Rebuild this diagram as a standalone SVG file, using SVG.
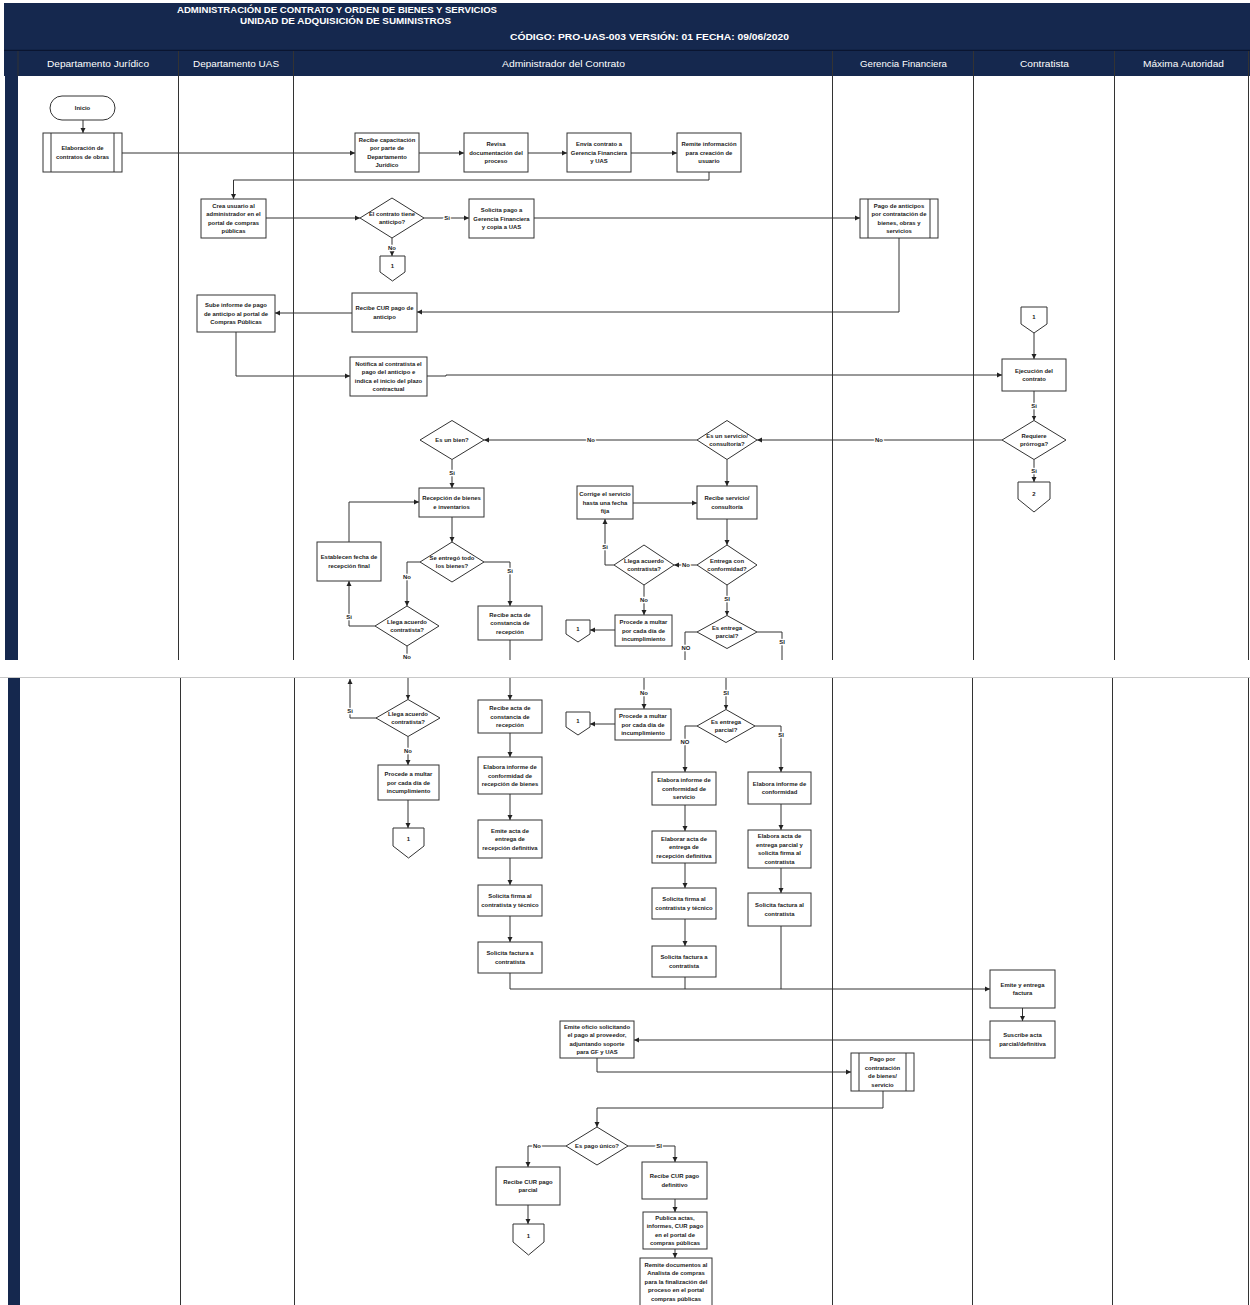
<svg xmlns="http://www.w3.org/2000/svg" width="1250" height="1305" viewBox="0 0 1250 1305">
<style>
.bg{fill:#fff}
.navy{fill:#15284e}
.lane{stroke:#333;stroke-width:1;fill:none}
.box{fill:#fff;stroke:#333;stroke-width:1}
.t{font-family:"Liberation Sans",Arial,sans-serif;font-size:5.9px;font-weight:bold;fill:#1a1a1a;text-anchor:middle}
.l{font-family:"Liberation Sans",Arial,sans-serif;font-size:5.9px;font-weight:bold;fill:#1a1a1a;text-anchor:middle;stroke:#fff;stroke-width:2.5px;paint-order:stroke}
.h{font-family:"Liberation Sans",Arial,sans-serif;font-weight:bold;fill:#fff;text-anchor:middle}
.lh{font-family:"Liberation Sans",Arial,sans-serif;font-size:9.5px;fill:#fff;text-anchor:middle}
.c{fill:none;stroke:#333;stroke-width:1}
.a{fill:none;stroke:#333;stroke-width:1;marker-end:url(#arr)}
</style>
<defs>
<marker id="arr" markerUnits="userSpaceOnUse" markerWidth="5" markerHeight="6" refX="5" refY="3" orient="auto">
<path d="M0,0.5 L5,3 L0,5.5 Z" fill="#222"/>
</marker>
</defs>
<rect class="bg" x="0" y="0" width="1250" height="1305"/>

<!-- Header -->
<g id="header">
<rect class="navy" x="4" y="3" width="1246" height="47"/>
<line x1="4" y1="50.5" x2="1250" y2="50.5" stroke="#0a1530" stroke-width="1.5"/>
<rect class="navy" x="4" y="51" width="1246" height="25"/>
<text class="h" x="337" y="13" font-size="9" textLength="320" lengthAdjust="spacingAndGlyphs">ADMINISTRACIÓN DE CONTRATO Y ORDEN DE BIENES Y SERVICIOS</text>
<text class="h" x="345.5" y="24" font-size="9" textLength="211" lengthAdjust="spacingAndGlyphs">UNIDAD DE ADQUISICIÓN DE SUMINISTROS</text>
<text class="h" x="649.5" y="40" font-size="9" textLength="279" lengthAdjust="spacingAndGlyphs">CÓDIGO:  PRO-UAS-003 VERSIÓN: 01   FECHA: 09/06/2020</text>
<text class="lh" x="98" y="67" textLength="102" lengthAdjust="spacingAndGlyphs">Departamento Jurídico</text>
<text class="lh" x="236" y="67" textLength="86" lengthAdjust="spacingAndGlyphs">Departamento UAS</text>
<text class="lh" x="563.5" y="67" textLength="123" lengthAdjust="spacingAndGlyphs">Administrador del Contrato</text>
<text class="lh" x="903.5" y="67" textLength="87" lengthAdjust="spacingAndGlyphs">Gerencia Financiera</text>
<text class="lh" x="1044.5" y="67" textLength="49" lengthAdjust="spacingAndGlyphs">Contratista</text>
<text class="lh" x="1183.5" y="67" textLength="81" lengthAdjust="spacingAndGlyphs">Máxima Autoridad</text>
</g>

<!-- Lanes -->
<g id="lanes">
<rect class="navy" x="5" y="76" width="13" height="584"/>
<line class="lane" x1="18" y1="51" x2="18" y2="76" stroke="#0a1530"/>
<path class="lane" d="M178.5,51 V660 M293.5,51 V660 M832.5,51 V660 M973.5,51 V660 M1114.5,51 V660 M1248.5,51 V660"/>
<line x1="0" y1="677.5" x2="1250" y2="677.5" stroke="#c8c8c8" stroke-width="1"/>
<rect class="navy" x="8" y="678" width="12" height="627"/>
<path class="lane" d="M180.5,678 V1305 M294.5,678 V1305 M832.5,678 V1305 M972.5,678 V1305 M1112.5,678 V1305 M1248.5,678 V1305"/>
</g>

<!-- Connectors -->
<g id="connectors">
<path class="a" d="M83,120 V133"/>
<path class="a" d="M122,153 H355"/>
<path class="a" d="M419,153 H464"/>
<path class="a" d="M528,153 H567"/>
<path class="a" d="M631,153 H677"/>
<path class="a" d="M709,172 V180 H233.5 V199"/>
<path class="a" d="M266,218 H360"/>
<path class="a" d="M424,218 H469"/>
<text class="l" x="447" y="220">Si</text>
<path class="a" d="M534,218 H860"/>
<path class="a" d="M392,238 V256"/>
<text class="l" x="392" y="250">No</text>
<path class="a" d="M899,238 V312 H417"/>
<path class="a" d="M352,313 H275"/>
<path class="a" d="M236,332 V376 H350"/>
<path class="a" d="M427,376 H446 V375 H1002"/>
<path class="a" d="M1034,333 V359"/>
<path class="a" d="M1034,391 V420.5"/>
<text class="l" x="1034" y="408">Si</text>
<path class="a" d="M1002,440 H757"/>
<text class="l" x="879" y="442">No</text>
<path class="a" d="M1034,459.5 V482"/>
<text class="l" x="1034" y="473">Si</text>
<path class="a" d="M697,440 H484"/>
<text class="l" x="591" y="442">No</text>
<path class="a" d="M727,459.5 V486"/>
<path class="a" d="M452,459.5 V488"/>
<text class="l" x="452" y="475">Si</text>
<path class="a" d="M452,517 V542"/>
<path class="a" d="M420,562 H407 V606"/>
<text class="l" x="407" y="579">No</text>
<path class="a" d="M484,562 H510 V606"/>
<text class="l" x="510" y="573">Si</text>
<path class="a" d="M349,542 V502 H419"/>
<path class="a" d="M375,626 H349 V581"/>
<text class="l" x="349" y="619">Si</text>
<path class="c" d="M407,646 V660"/>
<text class="l" x="407" y="659">No</text>
<path class="c" d="M510,640 V660"/>
<path class="a" d="M633,503 H697"/>
<path class="a" d="M727,519 V545"/>
<path class="a" d="M697,565 H674"/>
<text class="l" x="686" y="567">No</text>
<path class="a" d="M614,565 H605 V519"/>
<text class="l" x="605" y="549">Si</text>
<path class="a" d="M644,585 V615"/>
<text class="l" x="644" y="602">No</text>
<path class="a" d="M615,630 H590"/>
<path class="a" d="M727,585 V615.5"/>
<text class="l" x="727" y="601">SI</text>
<path class="c" d="M697,632 H685 V660"/>
<text class="l" x="686" y="650">NO</text>
<path class="c" d="M757,632 H782 V660"/>
<text class="l" x="782" y="644">SI</text>

<path class="a" d="M377,718 H350 V679"/>
<text class="l" x="350" y="713">Si</text>
<path class="a" d="M408,678 V699.5"/>
<path class="a" d="M408,736.5 V765"/>
<text class="l" x="408" y="753">No</text>
<path class="a" d="M408,800 V828"/>
<path class="a" d="M510,678 V700"/>
<path class="a" d="M510,733 V757"/>
<path class="a" d="M510,794 V820"/>
<path class="a" d="M510,858 V885"/>
<path class="a" d="M510,916 V942"/>
<path class="a" d="M510,973 V989 H990"/>
<path class="a" d="M644,678 V709"/>
<text class="l" x="644" y="695">No</text>
<path class="a" d="M615,724 H590"/>
<path class="a" d="M726,678 V709.5"/>
<text class="l" x="726" y="695">SI</text>
<path class="a" d="M697,726 H685 V772"/>
<text class="l" x="685" y="744">NO</text>
<path class="a" d="M755,726 H781 V772"/>
<text class="l" x="781" y="737">SI</text>
<path class="a" d="M685,805 V831"/>
<path class="a" d="M685,863 V888"/>
<path class="a" d="M685,919 V946"/>
<path class="c" d="M685,977 V989"/>
<path class="a" d="M781,804 V830"/>
<path class="a" d="M781,868 V893"/>
<path class="c" d="M781,926 V989"/>
<path class="a" d="M1022.5,1008 V1021"/>
<path class="a" d="M990,1040 H634"/>
<path class="a" d="M597,1058 V1072 H851"/>
<path class="a" d="M883,1091 V1108 H597 V1127"/>
<path class="a" d="M566,1146 H528 V1167"/>
<text class="l" x="537" y="1148">No</text>
<path class="a" d="M628,1146 H675 V1162"/>
<text class="l" x="659" y="1148">SI</text>
<path class="a" d="M528,1205 V1224"/>
<path class="a" d="M675,1199 V1212"/>
<path class="a" d="M675,1249 V1258"/>
</g>

<!-- Nodes top part -->
<g id="n-inicio"><rect class="box" x="50" y="96" width="65" height="24" rx="12"/><text class="t" x="82.5" y="110">Inicio</text></g>
<g id="n-elaboracion"><rect class="box" x="43" y="133" width="79" height="39"/><path class="c" d="M51,133 V172 M114,133 V172"/><text class="t"><tspan x="82.5" y="150.25">Elaboración de</tspan><tspan x="82.5" y="158.75">contratos de obras</tspan></text></g>
<g id="n-recibe-capacitacion"><rect class="box" x="355" y="133" width="64" height="39"/><text class="t"><tspan x="387" y="141.75">Recibe capacitación</tspan><tspan x="387" y="150.25">por parte de</tspan><tspan x="387" y="158.75">Departamento</tspan><tspan x="387" y="167.25">Jurídico</tspan></text></g>
<g id="n-revisa"><rect class="box" x="464" y="133" width="64" height="39"/><text class="t"><tspan x="496" y="146">Revisa</tspan><tspan x="496" y="154.5">documentación del</tspan><tspan x="496" y="163">proceso</tspan></text></g>
<g id="n-envia"><rect class="box" x="567" y="133" width="64" height="39"/><text class="t"><tspan x="599" y="146">Envía contrato a</tspan><tspan x="599" y="154.5">Gerencia Financiera</tspan><tspan x="599" y="163">y UAS</tspan></text></g>
<g id="n-remite-info"><rect class="box" x="677" y="133" width="64" height="39"/><text class="t"><tspan x="709" y="146">Remite información</tspan><tspan x="709" y="154.5">para creación de</tspan><tspan x="709" y="163">usuario</tspan></text></g>
<g id="n-crea-usuario"><rect class="box" x="201" y="199" width="65" height="39"/><text class="t"><tspan x="233.5" y="207.75">Crea usuario al</tspan><tspan x="233.5" y="216.25">administrador en el</tspan><tspan x="233.5" y="224.75">portal de compras</tspan><tspan x="233.5" y="233.25">públicas</tspan></text></g>
<g id="d-anticipo"><path class="box" d="M392,198 L424,218 L392,238 L360,218 Z"/><text class="t"><tspan x="392" y="215.75">El contrato tiene</tspan><tspan x="392" y="224.25">anticipo?</tspan></text></g>
<g id="n-solicita-pago"><rect class="box" x="469" y="199" width="65" height="39"/><text class="t"><tspan x="501.5" y="212">Solicita pago a</tspan><tspan x="501.5" y="220.5">Gerencia Financiera</tspan><tspan x="501.5" y="229">y copia a UAS</tspan></text></g>
<g id="n-pago-anticipos"><rect class="box" x="860" y="199" width="78" height="39"/><path class="c" d="M868,199 V238 M930,199 V238"/><text class="t"><tspan x="899" y="207.75">Pago de anticipos</tspan><tspan x="899" y="216.25">por contratación de</tspan><tspan x="899" y="224.75">bienes, obras y</tspan><tspan x="899" y="233.25">servicios</tspan></text></g>
<g id="c-1a"><path class="box" d="M380,256 H405 V272 L392.5,281 L380,272 Z"/><text class="t" x="392.5" y="268">1</text></g>
<g id="n-recibe-cur-anticipo"><rect class="box" x="352" y="293" width="65" height="39"/><text class="t"><tspan x="384.5" y="310.25">Recibe CUR pago de</tspan><tspan x="384.5" y="318.75">anticipo</tspan></text></g>
<g id="n-sube-informe"><rect class="box" x="197" y="295" width="78" height="37"/><text class="t"><tspan x="236" y="307">Sube informe de pago</tspan><tspan x="236" y="315.5">de anticipo al portal de</tspan><tspan x="236" y="324">Compras Públicas</tspan></text></g>
<g id="n-notifica"><rect class="box" x="350" y="357" width="77" height="39"/><text class="t"><tspan x="388.5" y="365.75">Notifica al contratista el</tspan><tspan x="388.5" y="374.25">pago del anticipo e</tspan><tspan x="388.5" y="382.75">indica el inicio del plazo</tspan><tspan x="388.5" y="391.25">contractual</tspan></text></g>
<g id="c-1b"><path class="box" d="M1021,307 H1047 V324 L1034,333 L1021,324 Z"/><text class="t" x="1034" y="319">1</text></g>
<g id="n-ejecucion"><rect class="box" x="1002" y="359" width="64" height="32"/><text class="t"><tspan x="1034" y="372.75">Ejecución del</tspan><tspan x="1034" y="381.25">contrato</tspan></text></g>
<g id="d-prorroga"><path class="box" d="M1034,420.5 L1066,440 L1034,459.5 L1002,440 Z"/><text class="t"><tspan x="1034" y="437.75">Requiere</tspan><tspan x="1034" y="446.25">prórroga?</tspan></text></g>
<g id="c-2"><path class="box" d="M1018,482 H1050 V499 L1034,512 L1018,499 Z"/><text class="t" x="1034" y="496">2</text></g>
<g id="d-servicio"><path class="box" d="M727,420.5 L757,440 L727,459.5 L697,440 Z"/><text class="t"><tspan x="727" y="437.75">Es un servicio/</tspan><tspan x="727" y="446.25">consultoría?</tspan></text></g>
<g id="d-bien"><path class="box" d="M452,420.5 L484,440 L452,459.5 L420,440 Z"/><text class="t" x="452" y="442">Es un bien?</text></g>
<g id="n-recepcion"><rect class="box" x="419" y="488" width="65" height="29"/><text class="t"><tspan x="451.5" y="500.25">Recepción de bienes</tspan><tspan x="451.5" y="508.75">e inventarios</tspan></text></g>
<g id="d-entrego"><path class="box" d="M452,542 L484,562 L452,582 L420,562 Z"/><text class="t"><tspan x="452" y="559.75">Se entregó todo</tspan><tspan x="452" y="568.25">los bienes?</tspan></text></g>
<g id="n-establecen"><rect class="box" x="317" y="542" width="64" height="39"/><text class="t"><tspan x="349" y="559.25">Establecen fecha de</tspan><tspan x="349" y="567.75">recepción final</tspan></text></g>
<g id="d-llega-1"><path class="box" d="M407,606 L439,626 L407,646 L375,626 Z"/><text class="t"><tspan x="407" y="623.75">Llega acuerdo</tspan><tspan x="407" y="632.25">contratista?</tspan></text></g>
<g id="n-recibe-acta-1"><rect class="box" x="478" y="606" width="64" height="34"/><text class="t"><tspan x="510" y="616.5">Recibe acta de</tspan><tspan x="510" y="625">constancia de</tspan><tspan x="510" y="633.5">recepción</tspan></text></g>
<g id="n-corrige"><rect class="box" x="577" y="486" width="56" height="33"/><text class="t"><tspan x="605" y="496">Corrige el servicio</tspan><tspan x="605" y="504.5">hasta una fecha</tspan><tspan x="605" y="513">fija</tspan></text></g>
<g id="n-recibe-servicio"><rect class="box" x="697" y="486" width="60" height="33"/><text class="t"><tspan x="727" y="500.25">Recibe servicio/</tspan><tspan x="727" y="508.75">consultoría</tspan></text></g>
<g id="d-conformidad"><path class="box" d="M727,545 L757,565 L727,585 L697,565 Z"/><text class="t"><tspan x="727" y="562.75">Entrega con</tspan><tspan x="727" y="571.25">conformidad?</tspan></text></g>
<g id="d-llega-2"><path class="box" d="M644,545 L674,565 L644,585 L614,565 Z"/><text class="t"><tspan x="644" y="562.75">Llega acuerdo</tspan><tspan x="644" y="571.25">contratista?</tspan></text></g>
<g id="n-multa-1"><rect class="box" x="615" y="615" width="57" height="31"/><text class="t"><tspan x="643.5" y="624">Procede a multar</tspan><tspan x="643.5" y="632.5">por cada día de</tspan><tspan x="643.5" y="641">incumplimiento</tspan></text></g>
<g id="c-1c"><path class="box" d="M566,620 H590 V634 L578,642 L566,634 Z"/><text class="t" x="578" y="631">1</text></g>
<g id="d-parcial-1"><path class="box" d="M727,615.5 L757,632 L727,648.5 L697,632 Z"/><text class="t"><tspan x="727" y="629.75">Es entrega</tspan><tspan x="727" y="638.25">parcial?</tspan></text></g>

<!-- Nodes bottom part -->
<g id="d-llega-1b"><path class="box" d="M408,699.5 L440,718 L408,736.5 L376,718 Z"/><text class="t"><tspan x="408" y="715.75">Llega acuerdo</tspan><tspan x="408" y="724.25">contratista?</tspan></text></g>
<g id="n-multa-1b"><rect class="box" x="378" y="765" width="61" height="35"/><text class="t"><tspan x="408.5" y="776">Procede a multar</tspan><tspan x="408.5" y="784.5">por cada día de</tspan><tspan x="408.5" y="793">incumplimiento</tspan></text></g>
<g id="c-1d"><path class="box" d="M393,828 H424 V846 L408.5,858 L393,846 Z"/><text class="t" x="408.5" y="841">1</text></g>
<g id="n-recibe-acta-2"><rect class="box" x="478" y="700" width="64" height="33"/><text class="t"><tspan x="510" y="710">Recibe acta de</tspan><tspan x="510" y="718.5">constancia de</tspan><tspan x="510" y="727">recepción</tspan></text></g>
<g id="n-informe-bienes"><rect class="box" x="478" y="757" width="64" height="37"/><text class="t"><tspan x="510" y="769">Elabora informe de</tspan><tspan x="510" y="777.5">conformidad de</tspan><tspan x="510" y="786">recepción de bienes</tspan></text></g>
<g id="n-emite-acta"><rect class="box" x="478" y="820" width="64" height="38"/><text class="t"><tspan x="510" y="832.5">Emite acta de</tspan><tspan x="510" y="841">entrega de</tspan><tspan x="510" y="849.5">recepción definitiva</tspan></text></g>
<g id="n-firma-1"><rect class="box" x="478" y="885" width="64" height="31"/><text class="t"><tspan x="510" y="898.25">Solicita firma al</tspan><tspan x="510" y="906.75">contratista y técnico</tspan></text></g>
<g id="n-factura-1"><rect class="box" x="478" y="942" width="64" height="31"/><text class="t"><tspan x="510" y="955.25">Solicita factura a</tspan><tspan x="510" y="963.75">contratista</tspan></text></g>
<g id="n-multa-2b"><rect class="box" x="615" y="709" width="56" height="31"/><text class="t"><tspan x="643" y="718">Procede a multar</tspan><tspan x="643" y="726.5">por cada día de</tspan><tspan x="643" y="735">incumplimiento</tspan></text></g>
<g id="c-1e"><path class="box" d="M566,712 H590 V727 L578,735 L566,727 Z"/><text class="t" x="578" y="723">1</text></g>
<g id="d-parcial-2"><path class="box" d="M726,709.5 L755,726 L726,742.5 L697,726 Z"/><text class="t"><tspan x="726" y="723.75">Es entrega</tspan><tspan x="726" y="732.25">parcial?</tspan></text></g>
<g id="n-informe-servicio"><rect class="box" x="652" y="772" width="64" height="33"/><text class="t"><tspan x="684" y="782">Elabora informe de</tspan><tspan x="684" y="790.5">conformidad de</tspan><tspan x="684" y="799">servicio</tspan></text></g>
<g id="n-acta-definitiva"><rect class="box" x="652" y="831" width="64" height="32"/><text class="t"><tspan x="684" y="840.5">Elaborar acta de</tspan><tspan x="684" y="849">entrega de</tspan><tspan x="684" y="857.5">recepción definitiva</tspan></text></g>
<g id="n-firma-2"><rect class="box" x="652" y="888" width="64" height="31"/><text class="t"><tspan x="684" y="901.25">Solicita firma al</tspan><tspan x="684" y="909.75">contratista y técnico</tspan></text></g>
<g id="n-factura-2"><rect class="box" x="652" y="946" width="64" height="31"/><text class="t"><tspan x="684" y="959.25">Solicita factura a</tspan><tspan x="684" y="967.75">contratista</tspan></text></g>
<g id="n-informe-conformidad"><rect class="box" x="748" y="772" width="63" height="32"/><text class="t"><tspan x="779.5" y="785.75">Elabora informe de</tspan><tspan x="779.5" y="794.25">conformidad</tspan></text></g>
<g id="n-acta-parcial"><rect class="box" x="748" y="830" width="63" height="38"/><text class="t"><tspan x="779.5" y="838.25">Elabora acta de</tspan><tspan x="779.5" y="846.75">entrega parcial y</tspan><tspan x="779.5" y="855.25">solicita firma al</tspan><tspan x="779.5" y="863.75">contratista</tspan></text></g>
<g id="n-factura-3"><rect class="box" x="748" y="893" width="63" height="33"/><text class="t"><tspan x="779.5" y="907.25">Solicita factura al</tspan><tspan x="779.5" y="915.75">contratista</tspan></text></g>
<g id="n-emite-factura"><rect class="box" x="990" y="970" width="65" height="38"/><text class="t"><tspan x="1022.5" y="986.75">Emite y entrega</tspan><tspan x="1022.5" y="995.25">factura</tspan></text></g>
<g id="n-suscribe"><rect class="box" x="990" y="1021" width="65" height="37"/><text class="t"><tspan x="1022.5" y="1037.25">Suscribe acta</tspan><tspan x="1022.5" y="1045.75">parcial/definitiva</tspan></text></g>
<g id="n-oficio"><rect class="box" x="560" y="1021" width="74" height="37"/><text class="t"><tspan x="597" y="1028.75">Emite oficio solicitando</tspan><tspan x="597" y="1037.25">el pago al proveedor,</tspan><tspan x="597" y="1045.75">adjuntando soporte</tspan><tspan x="597" y="1054.25">para GF y UAS</tspan></text></g>
<g id="n-pago-contratacion"><rect class="box" x="851" y="1053" width="63" height="38"/><path class="c" d="M859,1053 V1091 M906,1053 V1091"/><text class="t"><tspan x="882.5" y="1061.25">Pago por</tspan><tspan x="882.5" y="1069.75">contratación</tspan><tspan x="882.5" y="1078.25">de bienes/</tspan><tspan x="882.5" y="1086.75">servicio</tspan></text></g>
<g id="d-pago-unico"><path class="box" d="M597,1127 L628,1146 L597,1165 L566,1146 Z"/><text class="t" x="597" y="1148">Es pago único?</text></g>
<g id="n-cur-parcial"><rect class="box" x="496" y="1167" width="64" height="38"/><text class="t"><tspan x="528" y="1183.75">Recibe CUR pago</tspan><tspan x="528" y="1192.25">parcial</tspan></text></g>
<g id="c-1f"><path class="box" d="M513,1224 H544 V1242 L528.5,1255 L513,1242 Z"/><text class="t" x="528.5" y="1238">1</text></g>
<g id="n-cur-definitivo"><rect class="box" x="642" y="1162" width="65" height="37"/><text class="t"><tspan x="674.5" y="1178.25">Recibe CUR pago</tspan><tspan x="674.5" y="1186.75">definitivo</tspan></text></g>
<g id="n-publica"><rect class="box" x="643" y="1212" width="64" height="37"/><text class="t"><tspan x="675" y="1219.75">Publica actas,</tspan><tspan x="675" y="1228.25">informes, CUR pago</tspan><tspan x="675" y="1236.75">en el portal de</tspan><tspan x="675" y="1245.25">compras públicas</tspan></text></g>
<g id="n-remite-documentos"><rect class="box" x="640" y="1258" width="72" height="52"/><text class="t"><tspan x="676" y="1266.5">Remite documentos al</tspan><tspan x="676" y="1275">Analista de compras</tspan><tspan x="676" y="1283.5">para la finalización del</tspan><tspan x="676" y="1292">proceso en el portal</tspan><tspan x="676" y="1300.5">compras públicas</tspan></text></g>
</svg>
